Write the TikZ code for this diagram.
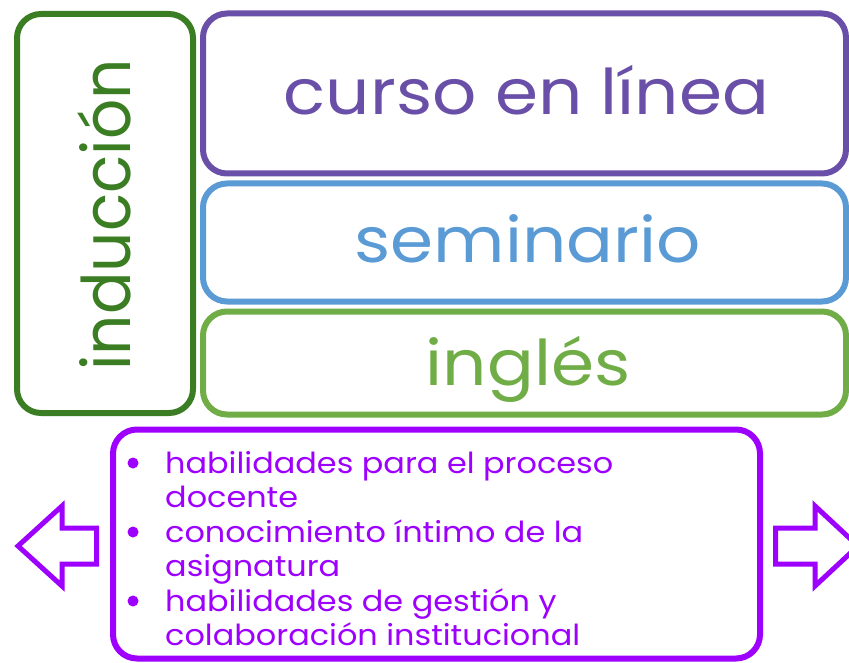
\documentclass[tikz,border=0pt]{standalone}
\usepackage{fontspec}
\setmainfont{Poppins}[FakeStretch=1.1]
\newfontfamily\indfont{Poppins}[FakeStretch=0.94]
\usepackage{xcolor}
\usetikzlibrary{positioning}

\definecolor{indgreen}{HTML}{3A7D22}
\definecolor{cursopurple}{HTML}{6A4FA8}
\definecolor{semblue}{HTML}{5B9BD5}
\definecolor{inggreen}{HTML}{70AD47}
\definecolor{listviolet}{HTML}{9D00FF}

\begin{document}
\begin{tikzpicture}[
  x=1pt,
  y=-1pt,
  box/.style={draw, line width=6pt, rounded corners=24pt, inner sep=0pt},
  bigtext/.style={font=\fontsize{63}{63}\selectfont, anchor=base, inner sep=0pt},
  itemtext/.style={font=\fontsize{29}{34.5}\selectfont, text=listviolet, align=left, anchor=north west, inner sep=0pt},
  dot/.style={circle, fill=listviolet, inner sep=0pt, minimum size=11pt},
  bigarrow/.style={draw=listviolet, line width=5pt, line join=miter},
]

% Page frame.
\useasboundingbox (0,0) rectangle (849,663);

% Boxes.
\node[box, draw=indgreen, minimum width=176pt, minimum height=399pt] (ind) at (105,213.5) {};
\node[box, draw=cursopurple, minimum width=643pt, minimum height=160pt] (curso) at (524.5,93.5) {};
\node[box, draw=semblue, minimum width=643pt, minimum height=118pt] (sem) at (524.5,242.5) {};
\node[box, draw=inggreen, minimum width=643pt, minimum height=103pt] (ing) at (524.5,363) {};
\node[box, draw=listviolet, minimum width=647pt, minimum height=229pt] (list) at (436.5,544) {};

% Labels (placed on their baselines).
\node[bigtext, text=indgreen, rotate=90, font=\fontsize{67}{67}\indfont] (indlab) at (130,215) {inducción};
\node[bigtext, text=cursopurple] (cursolab) at (526.5,115) {curso en línea};
\node[bigtext, text=semblue] (semlab) at (527.5,263) {seminario};
\node[bigtext, text=inggreen] (inglab) at (528,385) {inglés};

% Bullet list: first baseline at 473, lines 34.5 apart.
\def\topstrut{\rule{0pt}{26pt}}
\node[itemtext] (it1) at (165,447) {\topstrut habilidades para el proceso\\docente};
\node[itemtext] (it2) at (165,516) {\topstrut conocimiento íntimo de la\\asignatura};
\node[itemtext] (it3) at (165,585) {\topstrut habilidades de gestión y\\colaboración institucional};
\foreach \n in {1,2,3}
  \node[dot] (dot\n) at ([xshift=-32pt, yshift=-16pt]it\n.north west) {};

% Side arrows.
\draw[bigarrow] ([xshift=-13.5pt]list.west |- 0,528) -- (62,528) -- (62,506) -- (18,546)
  -- (62,586) -- (62,564) -- ([xshift=-13.5pt]list.west |- 0,564) -- cycle;
\draw[bigarrow] ([xshift=12.5pt]list.east |- 0,528) -- (815,528) -- (815,506) -- (858,546)
  -- (815,586) -- (815,564) -- ([xshift=12.5pt]list.east |- 0,564) -- cycle;

\end{tikzpicture}
\end{document}
